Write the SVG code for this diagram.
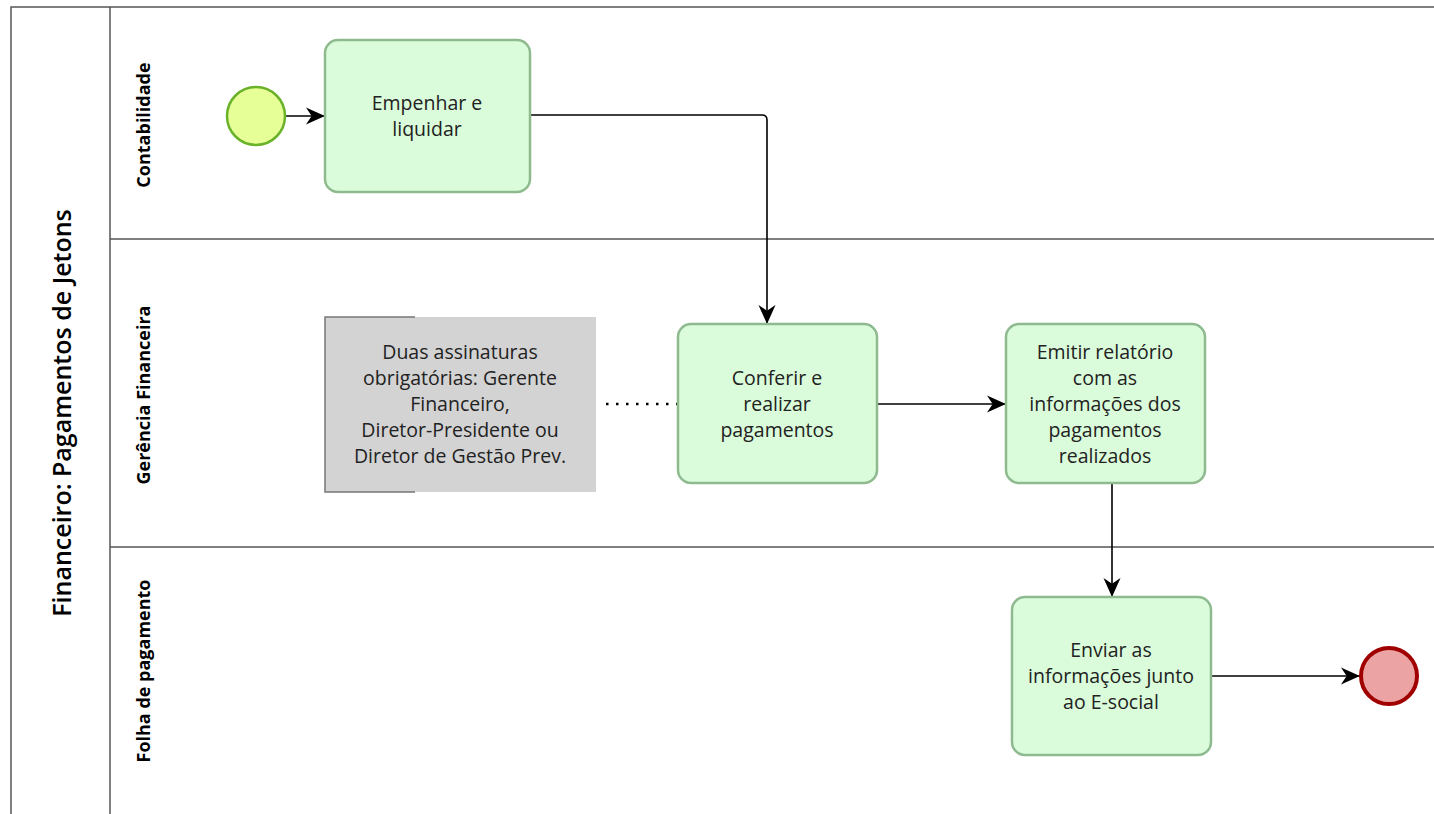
<svg xmlns="http://www.w3.org/2000/svg" width="1434" height="814" viewBox="0 0 1434 814">
<defs>
<style>
.lane{fill:none;stroke:#555;stroke-width:1.5}
.task{fill:#dafcda;stroke:#8fba8f;stroke-width:2.5}
.t{font-family:"Open Sans","Noto Sans",sans-serif;font-size:19.5px;fill:#222;text-anchor:middle}
.lbl{font-family:"Open Sans","Noto Sans",sans-serif;font-size:18px;font-weight:bold;fill:#000;text-anchor:middle}
.pool{font-family:"Open Sans","Noto Sans",sans-serif;font-size:25px;font-weight:600;fill:#000;text-anchor:middle}
.flow{fill:none;stroke:#000;stroke-width:1.6;marker-end:url(#arr)}
</style>
<marker id="arr" viewBox="0 0 20 20" refX="19" refY="10" markerWidth="19" markerHeight="19" markerUnits="userSpaceOnUse" orient="auto">
<path d="M0,1 L20,10 L0,19 L6,10 Z" fill="#000"/>
</marker>
</defs>
<rect width="1434" height="814" fill="#fff"/>
<g id="pool">
<path class="lane" d="M1440,7 H11 V820"/>
<line class="lane" x1="110" y1="7" x2="110" y2="820"/>
<line class="lane" x1="110" y1="239" x2="1440" y2="239"/>
<line class="lane" x1="110" y1="547" x2="1440" y2="547"/>
<text class="pool" transform="translate(71,413) rotate(-90)">Financeiro: Pagamentos de Jetons</text>
<text class="lbl" transform="translate(150,125) rotate(-90)">Contabilidade</text>
<text class="lbl" transform="translate(150,395) rotate(-90)">Gerência Financeira</text>
<text class="lbl" transform="translate(150,671) rotate(-90)">Folha de pagamento</text>
</g>
<g id="connectors">
<line class="flow" x1="286" y1="116" x2="324" y2="116"/>
<path class="flow" d="M531,115 H762 Q767,115 767,120 V323"/>
<line class="flow" x1="878" y1="404" x2="1005" y2="404"/>
<line class="flow" x1="1112" y1="484" x2="1112" y2="596"/>
<line class="flow" x1="1212" y1="676" x2="1359" y2="676"/>
<line x1="606" y1="404" x2="677" y2="404" stroke="#000" stroke-width="2.5" stroke-dasharray="2.5,7.5"/>
</g>
<g id="start">
<circle cx="256" cy="116" r="29" fill="#e6ff97" stroke="#6ab22a" stroke-width="2.5"/>
</g>
<g id="task1">
<rect class="task" x="325" y="40" width="205" height="152" rx="13"/>
<text class="t" x="427" y="110">Empenhar e</text>
<text class="t" x="427" y="136">liquidar</text>
</g>
<g id="note">
<rect x="325" y="317" width="271" height="175" fill="#d3d3d3"/>
<path d="M415,317 H325 V492 H415" fill="none" stroke="#777" stroke-width="1.5"/>
<text class="t" x="460" y="359">Duas assinaturas</text>
<text class="t" x="460" y="385">obrigatórias: Gerente</text>
<text class="t" x="460" y="411">Financeiro,</text>
<text class="t" x="460" y="437">Diretor-Presidente ou</text>
<text class="t" x="460" y="463">Diretor de Gestão Prev.</text>
</g>
<g id="task2">
<rect class="task" x="678" y="324" width="199" height="159" rx="13"/>
<text class="t" x="777" y="385">Conferir e</text>
<text class="t" x="777" y="411">realizar</text>
<text class="t" x="777" y="437">pagamentos</text>
</g>
<g id="task3">
<rect class="task" x="1006" y="324" width="199" height="159" rx="13"/>
<text class="t" x="1105" y="359">Emitir relatório</text>
<text class="t" x="1105" y="385">com as</text>
<text class="t" x="1105" y="411">informações dos</text>
<text class="t" x="1105" y="437">pagamentos</text>
<text class="t" x="1105" y="463">realizados</text>
</g>
<g id="task4">
<rect class="task" x="1012" y="597" width="199" height="158" rx="13"/>
<text class="t" x="1111" y="657">Enviar as</text>
<text class="t" x="1111" y="683">informações junto</text>
<text class="t" x="1111" y="709">ao E-social</text>
</g>
<g id="end">
<circle cx="1389" cy="676" r="28" fill="#eba3a3" stroke="#a00000" stroke-width="4"/>
</g>
</svg>
